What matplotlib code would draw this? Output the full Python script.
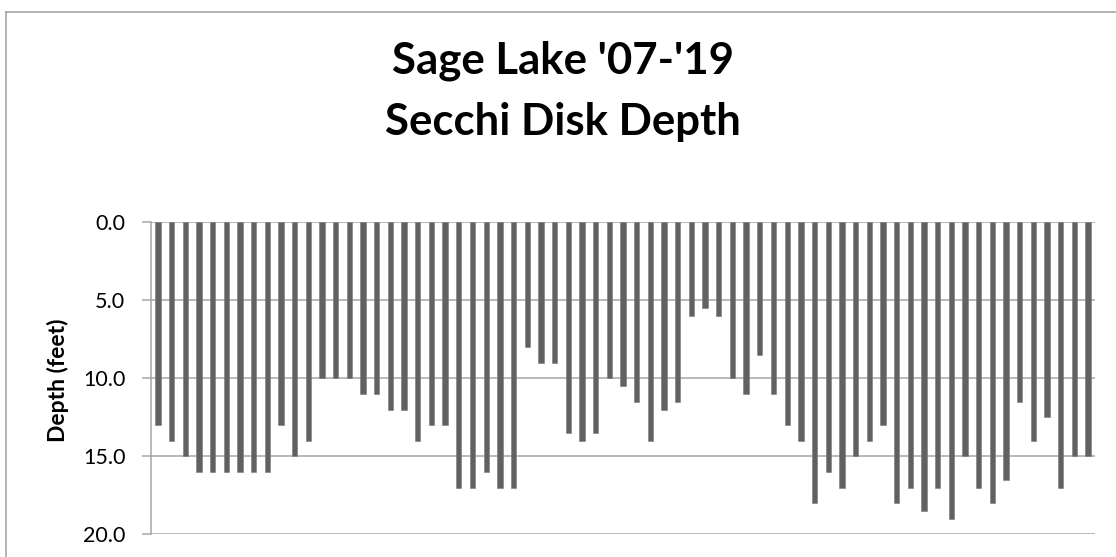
import matplotlib
matplotlib.use("Agg")
import matplotlib.pyplot as plt
from matplotlib.lines import Line2D

# ---- data ----
title_lines = ["Sage Lake '07-'19", "Secchi Disk Depth"]
y_label = "Depth (feet)"
y_ticks = [0.0, 5.0, 10.0, 15.0, 20.0]
depths = [13, 14, 15, 16, 16, 16, 16, 16, 16, 13, 15, 14, 10, 10, 10, 11, 11, 12, 12, 14, 13, 13, 17,
          17, 16, 17, 17,
          8, 9, 9, 13.5, 14, 13.5, 10, 10.5, 11.5, 14, 12, 11.5, 6, 5.5, 6, 10, 11, 8.5, 11,
          13, 14, 18, 16, 17, 15, 14, 13, 18, 17, 18.5, 17, 19, 15, 17, 18, 16.5, 11.5, 14, 12.5, 17, 15, 15]
samples = [f"S{i+1}" for i in range(len(depths))]

plt.rcParams['font.family'] = ['Lato', 'DejaVu Sans']

W, H = 1116, 557
fig = plt.figure(figsize=(W / 100, H / 100), dpi=100)
fig.patch.set_facecolor('white')

left, right, top, bottom = 151, 1095, 222.3, 534.3
ax = fig.add_axes([left / W, 1 - bottom / H, (right - left) / W, (bottom - top) / H])

x = list(range(len(samples)))
ax.bar(x, depths, width=0.39, color='#616161', edgecolor='#7a7a7a', linewidth=0.4, zorder=3)

ax.set_xlim(-0.5, len(samples) - 0.5)
ax.set_ylim(20, 0)
ax.set_yticks(y_ticks)
ax.set_yticklabels([f"{v:.1f}" for v in y_ticks], fontsize=15.5)
ax.set_xticks([])

grid_c = '#a6a6a6'
ax.yaxis.grid(True, color=grid_c, linewidth=1.1, zorder=0)
ax.set_axisbelow(True)
for s in ['top', 'right', 'bottom']:
    ax.spines[s].set_visible(False)
ax.spines['left'].set_color(grid_c)
ax.spines['left'].set_linewidth(1.1)
ax.tick_params(axis='y', length=6.5, width=1.1, color=grid_c, pad=12, labelcolor='black')

fig.text(57.5 / W, 1 - 380 / H, y_label, rotation=90, ha='center', va='center',
         fontsize=16.5, fontweight='bold')

fig.text(563 / W, 1 - 61 / H, title_lines[0], ha='center', va='center',
         fontsize=31.5, fontweight='bold')
fig.text(563 / W, 1 - 122 / H, title_lines[1], ha='center', va='center',
         fontsize=31.5, fontweight='bold')

# chart border (outer frame, partly cropped)
bx, by = 5.5, 11.5
fig.add_artist(Line2D([bx / W, 1.0], [1 - by / H, 1 - by / H], color='#a6a6a6', linewidth=1.2,
                      transform=fig.transFigure))
fig.add_artist(Line2D([bx / W, bx / W], [1 - by / H, 0.0], color='#a6a6a6', linewidth=1.2,
                      transform=fig.transFigure))

fig.savefig('out.png', dpi=100, facecolor='white')
